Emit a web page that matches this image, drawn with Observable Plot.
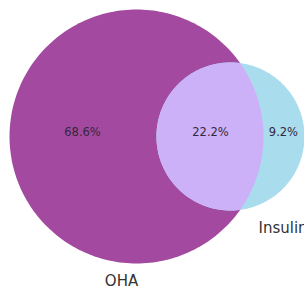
<!DOCTYPE html>
<html>
<head>
<meta charset="utf-8">
<script src="https://cdn.jsdelivr.net/npm/d3@7"></script>
<script src="https://cdn.jsdelivr.net/npm/@observablehq/plot@0.6"></script>
<style>
  html, body { margin: 0; padding: 0; background: #fff; }
  #chart svg { display: block; }
</style>
</head>
<body>
<div id="chart"></div>
<script>
// Data
const setNames = ["OHA", "Insulin"];
const regionLabels = ["68.6%", "22.2%", "9.2%"]; // OHA only, both, Insulin only

// Venn layout (unit: radius of the OHA circle)
const circleCx = [0, 0.74];
const circleCy = [0, 0];
const circleR = [1, 0.583];
const regionX = [-0.425, 0.583, 1.157];
const regionY = [0.03, 0.03, 0.03];
const setLabelX = [-0.118, 0.961];
const setLabelY = [-1.142, -0.724];

const colors = { oha: "#a349a0", both: "#ccb1f9", insulin: "#a9dced" };

function arc(cx, cy, r, a0, a1, n = 240) {
  return d3.range(n + 1).map(i => {
    const t = a0 + (a1 - a0) * i / n;
    return { x: cx + r * Math.cos(t), y: cy + r * Math.sin(t) };
  });
}

const [c1x, c2x] = circleCx, [c1y] = circleCy, [r1, r2] = circleR;
const d = c2x - c1x;
const a = (d * d + r1 * r1 - r2 * r2) / (2 * d);
const h = Math.sqrt(r1 * r1 - a * a);
const th1 = Math.atan2(h, a);
const th2 = Math.atan2(h, a - d);

const bigCircle = arc(c1x, c1y, r1, 0, 2 * Math.PI);
const smallCircle = arc(c2x, c1y, r2, 0, 2 * Math.PI);
const lens = [
  ...arc(c1x, c1y, r1, -th1, th1),
  ...arc(c2x, c1y, r2, th2, 2 * Math.PI - th2)
];

const regions = regionLabels.map((t, i) => ({ t, x: regionX[i], y: regionY[i] }));
const setLbls = setNames.map((t, i) => ({ t, x: setLabelX[i], y: setLabelY[i] }));

const chart = Plot.plot({
  width: 304,
  height: 289,
  margin: 0,
  style: { background: "#fff", fontFamily: "DejaVu Sans, sans-serif" },
  x: { domain: [-1.071, 1.323], range: [0, 304], axis: null },
  y: { domain: [-1.205, 1.071], range: [289, 0], axis: null },
  marks: [
    Plot.line(bigCircle, { x: "x", y: "y", fill: colors.oha, stroke: "none" }),
    Plot.line(smallCircle, { x: "x", y: "y", fill: colors.insulin, stroke: "none" }),
    Plot.line(lens, { x: "x", y: "y", fill: colors.both, stroke: "none" }),
    Plot.text(regions, { x: "x", y: "y", text: "t", fontSize: 11.5, fill: "#33283a", fontFamily: "DejaVu Sans" }),
    Plot.text(setLbls.slice(0, 1), { x: "x", y: "y", text: "t", fontSize: 15, fill: "#333", textAnchor: "middle", fontFamily: "DejaVu Sans" }),
    Plot.text(setLbls.slice(1), { x: "x", y: "y", text: "t", fontSize: 15, fill: "#333", textAnchor: "start", fontFamily: "DejaVu Sans" })
  ]
});
document.getElementById("chart").appendChild(chart);
</script>
</body>
</html>
